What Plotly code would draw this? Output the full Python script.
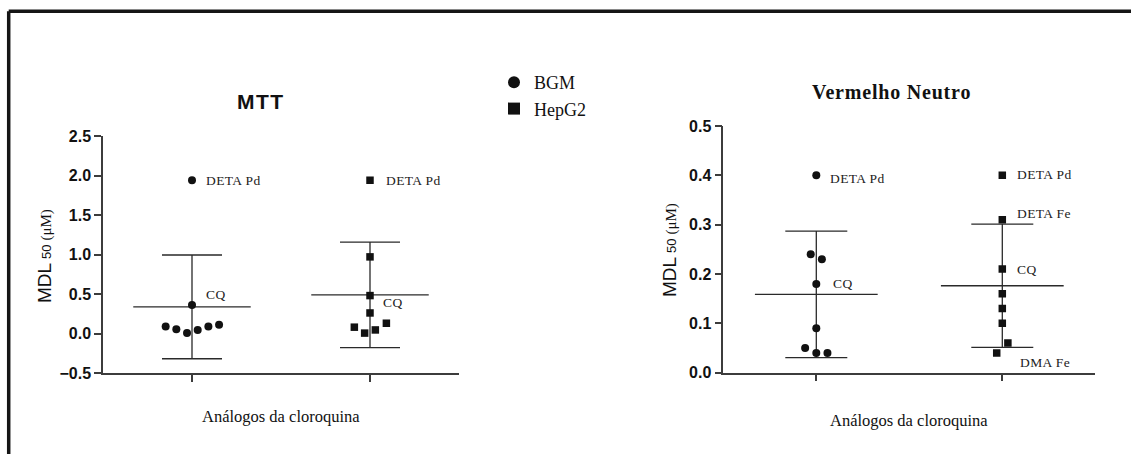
import numpy as np
import plotly.graph_objects as go

W, H = 1131, 454

# ---------------- data ----------------
categories = ["BGM", "HepG2"]
cat_pos = [0, 1]

# MTT panel (MDL50, uM)
mtt_bgm = [1.94, 0.36, 0.09, 0.055, 0.005, 0.045, 0.09, 0.11]
mtt_bgm_jit = [0, 0, -0.148, -0.088, -0.028, 0.032, 0.092, 0.152]
mtt_hep = [1.94, 0.97, 0.48, 0.26, 0.08, 0.005, 0.045, 0.13]
mtt_hep_jit = [0, 0, 0, 0, -0.088, -0.03, 0.03, 0.092]

# Vermelho Neutro panel (MDL50, uM)
nr_bgm = [0.40, 0.24, 0.23, 0.18, 0.09, 0.05, 0.04, 0.04]
nr_bgm_jit = [0, -0.03, 0.03, 0, 0, -0.06, 0, 0.06]
nr_hep = [0.40, 0.31, 0.21, 0.16, 0.13, 0.10, 0.06, 0.04]
nr_hep_jit = [0, 0, 0, 0, 0, 0, 0.03, -0.03]

# point labels: (panel, category index, point index, text, dx, dy)
point_labels = [
    ("mtt", 0, 0, "DETA Pd", 12, 0),
    ("mtt", 0, 1, "CQ", 12, 11),
    ("mtt", 1, 0, "DETA Pd", 14, 0),
    ("mtt", 1, 2, "CQ", 11, -7),
    ("nr", 0, 0, "DETA Pd", 12, -3),
    ("nr", 0, 3, "CQ", 15, 0),
    ("nr", 1, 0, "DETA Pd", 13, 1),
    ("nr", 1, 1, "DETA Fe", 13, 6),
    ("nr", 1, 2, "CQ", 13, 0),
    ("nr", 1, 7, "DMA Fe", 21, -10),
]

panels = {
    "mtt": dict(xa="x", ya="y", sets=[(mtt_bgm, mtt_bgm_jit), (mtt_hep, mtt_hep_jit)]),
    "nr": dict(xa="x2", ya="y2", sets=[(nr_bgm, nr_bgm_jit), (nr_hep, nr_hep_jit)]),
}

symbols = ["circle", "square"]
INK = "#111111"
LINE = "#2a2a2a"
AX = "#3c3c3c"

fig = go.Figure()

for pname, p in panels.items():
    for ci, (vals, jit) in enumerate(p["sets"]):
        v = np.array(vals, dtype=float)
        c = cat_pos[ci]
        mean = v.mean()
        sd = v.std(ddof=1)
        # mean line
        fig.add_trace(go.Scatter(
            x=[c - 0.33, c + 0.33], y=[mean, mean], mode="lines",
            line=dict(color=LINE, width=1.3), xaxis=p["xa"], yaxis=p["ya"],
            showlegend=False, hoverinfo="skip"))
        # SD error bar
        fig.add_trace(go.Scatter(
            x=[c], y=[mean], mode="markers", marker=dict(size=1, color="rgba(0,0,0,0)"),
            error_y=dict(type="data", array=[sd], visible=True, color=LINE,
                         thickness=1.3, width=30 if pname == "mtt" else 31),
            xaxis=p["xa"], yaxis=p["ya"], showlegend=False, hoverinfo="skip"))
        # points
        fig.add_trace(go.Scatter(
            x=[c + j for j in jit], y=vals, mode="markers",
            marker=dict(symbol=symbols[ci], size=8 if ci == 0 else 7.5, color=INK,
                        line=dict(width=0)),
            name=categories[ci], xaxis=p["xa"], yaxis=p["ya"],
            showlegend=(pname == "mtt")))

annotations = []
for pname, ci, pi, txt, dx, dy in point_labels:
    p = panels[pname]
    vals, jit = p["sets"][ci]
    annotations.append(dict(
        x=cat_pos[ci] + jit[pi], y=vals[pi], xref=p["xa"], yref=p["ya"],
        text=f'<span style="letter-spacing:0.4px">{txt}</span>', showarrow=False,
        xanchor="left", yanchor="middle", xshift=dx, yshift=dy,
        font=dict(family="Liberation Serif", size=13.5, color="#222")))


def px(x):
    return x / W


def py(y):
    return 1 - y / H


# titles
annotations.append(dict(x=px(261), y=py(102), xref="paper", yref="paper",
                        text='<b><span style="letter-spacing:1.5px">MTT</span></b>',
                        showarrow=False, xanchor="center", yanchor="middle",
                        font=dict(family="Liberation Sans", size=21, color=INK)))
annotations.append(dict(x=px(891), y=py(92), xref="paper", yref="paper",
                        text='<b><span style="letter-spacing:0.8px">Vermelho Neutro</span></b>',
                        showarrow=False, xanchor="center", yanchor="middle",
                        font=dict(family="Liberation Serif", size=20, color=INK)))

ytitle = ('<span style="font-family:Liberation Sans;font-size:19px">MDL</span> '
          '<span style="font-family:Liberation Sans;font-size:13px">50</span> '
          '<span style="font-family:Liberation Serif;font-size:15px">(μM)</span>')
for xc, yc in [(44, 256), (670, 250)]:
    annotations.append(dict(x=px(xc), y=py(yc), xref="paper", yref="paper", text=ytitle,
                            textangle=-90, showarrow=False, xanchor="center",
                            yanchor="middle", font=dict(color=INK, size=15)))

for xc, yc in [(281, 416), (909, 420)]:
    annotations.append(dict(x=px(xc), y=py(yc), xref="paper", yref="paper",
                            text="Análogos da cloroquina", showarrow=False,
                            xanchor="center", yanchor="middle",
                            font=dict(family="Liberation Serif", size=16.5, color=INK)))

axis_common = dict(showline=True, linecolor=AX, linewidth=1.5, ticks="outside",
                   ticklen=7, tickwidth=1.5, tickcolor=AX, showgrid=False,
                   zeroline=False, mirror=False, automargin=False)
tickfont = dict(family="Liberation Sans", size=16, color=INK, weight="bold")

fig.update_layout(
    width=W, height=H,
    margin=dict(l=0, r=0, t=0, b=0, pad=0),
    paper_bgcolor="white", plot_bgcolor="white",
    xaxis=dict(domain=[px(103), px(459)], range=[-0.5, 1.5], tickvals=cat_pos,
               showticklabels=False, anchor="y", **axis_common),
    yaxis=dict(domain=[py(373), py(136)], range=[-0.5, 2.5], dtick=0.5,
               tickformat=".1f", tickfont=tickfont, anchor="x", **axis_common),
    xaxis2=dict(domain=[px(723.3), px(1095.3)], range=[-0.5, 1.5], tickvals=cat_pos,
                showticklabels=False, anchor="y2", **axis_common),
    yaxis2=dict(domain=[py(372.7), py(126)], range=[0, 0.5], dtick=0.1,
                tickformat=".1f", tickfont=tickfont, anchor="x2", **axis_common),
    legend=dict(x=px(494), y=py(64), xanchor="left", yanchor="top",
                font=dict(family="Liberation Serif", size=18, color=INK),
                bgcolor="rgba(0,0,0,0)", borderwidth=0, itemsizing="constant",
                tracegroupgap=0),
    annotations=annotations,
    showlegend=True,
    shapes=[
        dict(type="line", xref="paper", yref="paper", x0=px(8.7), x1=1, y0=py(11.3),
             y1=py(11.3), line=dict(color="#151515", width=3.5)),
        dict(type="line", xref="paper", yref="paper", x0=px(8.7), x1=px(8.7), y0=0,
             y1=py(11.3), line=dict(color="#151515", width=3.5)),
    ],
)

fig.write_html(
    "out.html",
    config={"displayModeBar": False},
    post_script=("document.body.style.margin='0';"
                 "document.body.style.padding='0';"
                 "document.documentElement.style.overflow='hidden';"),
)
